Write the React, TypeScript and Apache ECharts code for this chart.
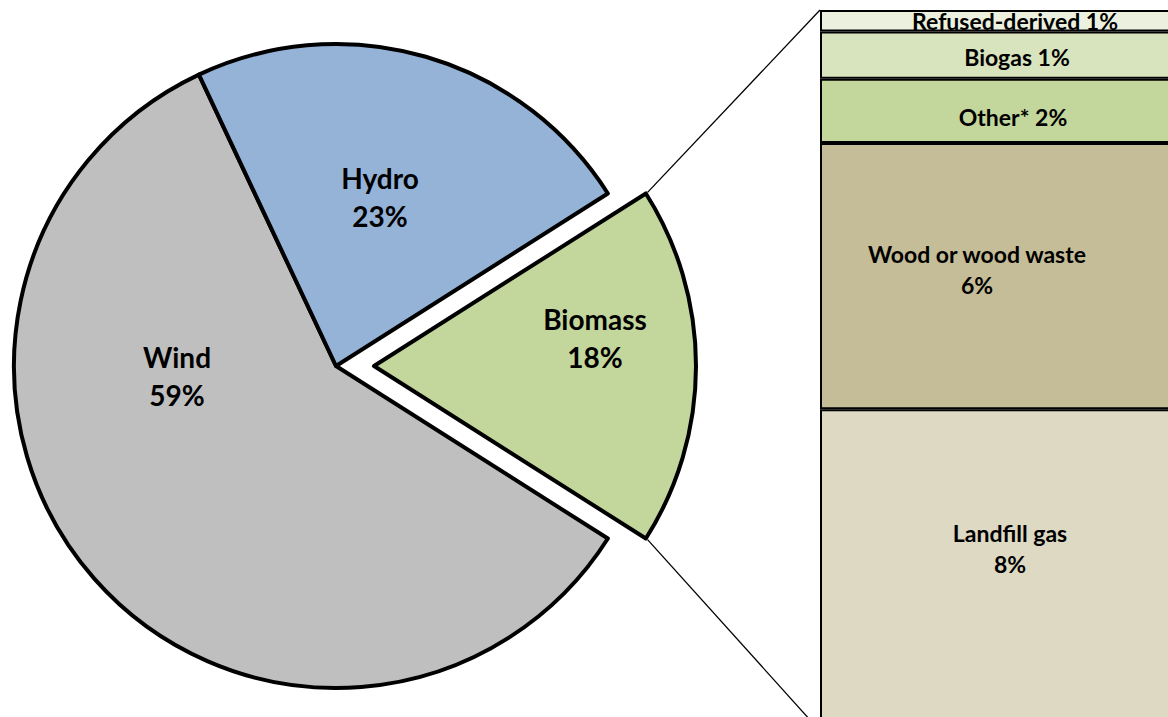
import React, { useEffect, useRef } from 'react';
import * as echarts from 'echarts';

// Pie data (slice order: Biomass first so it sits on the right, exploded)
const pieCategories = ['Biomass', 'Wind', 'Hydro'];
const pieValues = [18, 59, 23];
const pieColors = ['#c3d69b', '#bfbfbf', '#95b3d7'];

// Breakdown of Biomass (top to bottom)
const barCategories = ['Refused-derived', 'Biogas', 'Other*', 'Wood or wood waste', 'Landfill gas'];
const barValues = [0.5, 1.1, 1.5, 6.2, 7.5];
const barColors = ['#ebf1de', '#d7e4bd', '#c3d69b', '#c4bd97', '#ddd9c3'];

const FONT = 'Lato, "Open Sans", sans-serif';

export default function App() {
  const ref = useRef<HTMLDivElement>(null);

  useEffect(() => {
    document.body.style.margin = '0';
    if (!ref.current) return;
    const chart = echarts.init(ref.current, undefined, { renderer: 'svg' });

    const cx = 336, cy = 366, r = 322, off = 38;
    const pieTotal = pieValues.reduce((a, b) => a + b, 0);
    const halfDeg = (pieValues[0] / pieTotal) * 180;
    const half = (halfDeg * Math.PI) / 180;
    const apexX = cx + off;
    const tipR = r + 2;
    const tipTop = [apexX + tipR * Math.cos(half), cy - tipR * Math.sin(half)];
    const tipBot = [apexX + tipR * Math.cos(half), cy + tipR * Math.sin(half)];

    const barLeft = 820, barTop = 10, barHeight = 721;
    const barTotal = barValues.reduce((a, b) => a + b, 0);

    // label centre positions (layout), indexed like pieCategories
    const pieLabelPos = [
      [595, 338],
      [177, 376],
      [380, 197],
    ];

    const barLabelOffsets = [
      [0, 0],
      [2, 2],
      [-2, 6],
      [-38, -7],
      [-5, -22],
    ];
    const barBreak = [false, false, false, true, true];

    const pieLabel = {
      show: true,
      position: 'inside',
      formatter: (p: any) => `${p.name}\n${Math.round((p.value / pieTotal) * 100)}%`,
      fontFamily: FONT,
      fontWeight: 'bold',
      fontSize: 28,
      lineHeight: 38,
      color: '#000',
      align: 'center',
    };
    const hidden = {
      itemStyle: { color: 'transparent', borderWidth: 0 },
      label: { show: false },
    };

    chart.setOption({
      animation: false,
      textStyle: { fontFamily: FONT },
      grid: {
        left: barLeft,
        top: barTop,
        width: 390,
        height: barHeight,
        outerBoundsMode: 'none',
        containLabel: false,
      },
      xAxis: { type: 'category', data: ['Biomass'], show: false },
      yAxis: { type: 'value', inverse: true, min: 0, max: barTotal, show: false },
      graphic: [
        {
          type: 'line',
          shape: { x1: tipTop[0], y1: tipTop[1], x2: barLeft, y2: barTop },
          style: { stroke: '#000', lineWidth: 1.3 },
          silent: true,
        },
        {
          type: 'line',
          shape: { x1: tipBot[0], y1: tipBot[1], x2: barLeft, y2: barTop + barHeight },
          style: { stroke: '#000', lineWidth: 1.3 },
          silent: true,
        },
      ],
      series: [
        // main pie: Wind and Hydro (Biomass slot left empty)
        {
          type: 'pie',
          center: [cx, cy],
          radius: r,
          startAngle: halfDeg,
          clockwise: true,
          silent: true,
          emphasis: { disabled: true },
          itemStyle: { borderColor: '#000', borderWidth: 4 },
          label: pieLabel,
          labelLine: { show: false },
          labelLayout: (params: any) => {
            const pos = pieLabelPos[params.dataIndex];
            if (!pos) return {};
            return { x: pos[0], y: pos[1], align: 'center', verticalAlign: 'middle' };
          },
          data: pieCategories.map((name, i) =>
            i === 0
              ? { name, value: pieValues[i], ...hidden }
              : { name, value: pieValues[i], itemStyle: { color: pieColors[i] } }
          ),
        },
        // exploded Biomass slice
        {
          type: 'pie',
          center: [cx + off, cy],
          radius: r,
          startAngle: halfDeg,
          clockwise: true,
          silent: true,
          emphasis: { disabled: true },
          itemStyle: { borderColor: '#000', borderWidth: 4 },
          label: pieLabel,
          labelLine: { show: false },
          labelLayout: (params: any) => {
            const pos = pieLabelPos[0];
            if (params.dataIndex !== 0) return {};
            return { x: pos[0], y: pos[1], align: 'center', verticalAlign: 'middle' };
          },
          data: [
            { name: pieCategories[0], value: pieValues[0], itemStyle: { color: pieColors[0] } },
            { name: 'rest', value: pieTotal - pieValues[0], ...hidden },
          ],
        },
        ...barCategories.map((name, i) => ({
          type: 'bar',
          name,
          stack: 'biomass',
          barWidth: '100%',
          silent: true,
          emphasis: { disabled: true },
          itemStyle: { color: barColors[i], borderColor: '#000', borderWidth: 2 },
          label: {
            show: true,
            position: 'inside',
            offset: barLabelOffsets[i],
            formatter: (p: any) => `${p.seriesName}${barBreak[i] ? '\n' : ' '}${Math.round(p.value)}%`,
            fontFamily: FONT,
            fontWeight: 'bold',
            fontSize: 23,
            lineHeight: 31,
            color: '#000',
            align: 'center',
          },
          data: [barValues[i]],
        })),
      ],
    });

    return () => chart.dispose();
  }, []);

  return <div ref={ref} style={{ width: 1168, height: 717 }} />;
}
